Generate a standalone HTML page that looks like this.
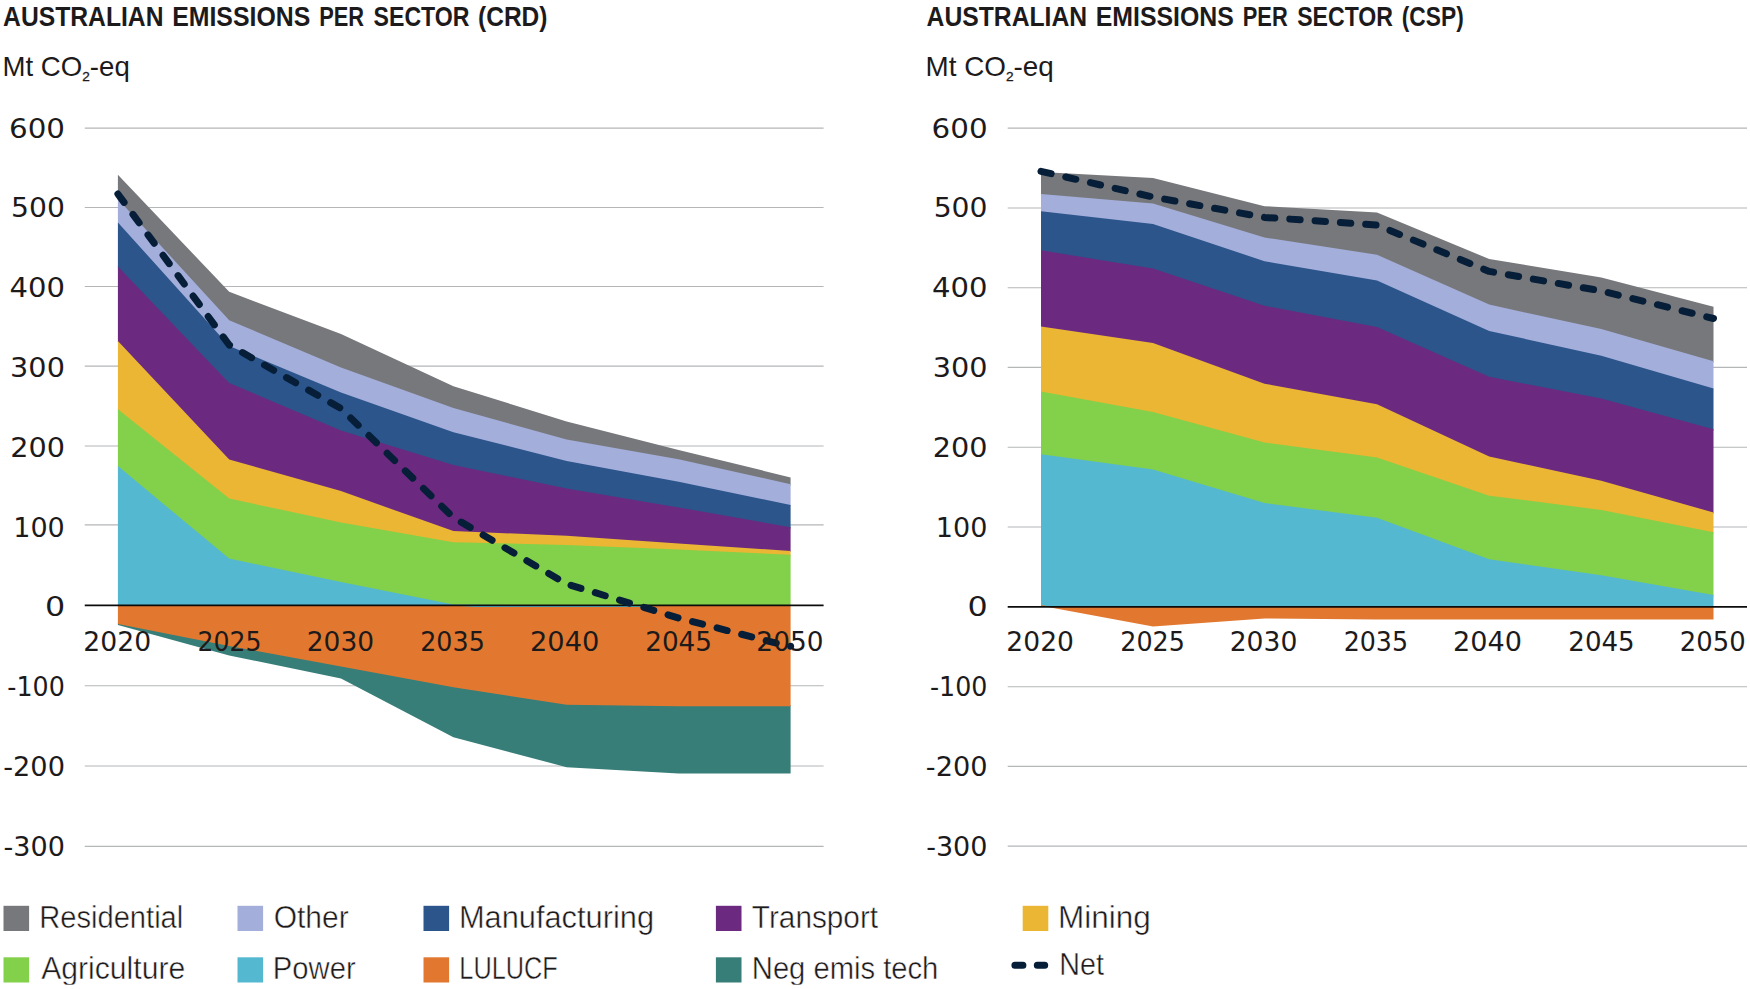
<!DOCTYPE html>
<html lang="en">
<head>
<meta charset="utf-8">
<title>Australian emissions per sector</title>
<style>
html,body{margin:0;padding:0;background:#fff;}
body{width:1750px;height:989px;overflow:hidden;}
svg{display:block;}
text{fill:#1d1a1b;}
.num{font-family:"DejaVu Sans","Liberation Sans",sans-serif;font-size:27.3px;}
.leg{font-family:"Liberation Sans",sans-serif;font-size:30.6px;stroke:#fff;stroke-width:0.45px;}
.ttl{font-family:"Liberation Sans",sans-serif;font-weight:bold;font-size:27px;}
.unit{font-family:"Liberation Sans",sans-serif;font-size:27.4px;}
.sub{font-size:13.5px;stroke:#1d1a1b;stroke-width:0.3px;}
</style>
</head>
<body>
<svg width="1750" height="989" viewBox="0 0 1750 989">
<rect width="1750" height="989" fill="#ffffff"/>
<g id="chart-crd">
<line x1="84.75" x2="823.6" y1="128.1" y2="128.1" stroke="#B4B6B8" stroke-width="1.15"/>
<line x1="84.75" x2="823.6" y1="207.5" y2="207.5" stroke="#B4B6B8" stroke-width="1.15"/>
<line x1="84.75" x2="823.6" y1="286.5" y2="286.5" stroke="#B4B6B8" stroke-width="1.15"/>
<line x1="84.75" x2="823.6" y1="366.1" y2="366.1" stroke="#B4B6B8" stroke-width="1.15"/>
<line x1="84.75" x2="823.6" y1="446" y2="446" stroke="#B4B6B8" stroke-width="1.15"/>
<line x1="84.75" x2="823.6" y1="524.8" y2="524.8" stroke="#B4B6B8" stroke-width="1.15"/>
<line x1="84.75" x2="823.6" y1="685.7" y2="685.7" stroke="#B4B6B8" stroke-width="1.15"/>
<line x1="84.75" x2="823.6" y1="766" y2="766" stroke="#B4B6B8" stroke-width="1.15"/>
<line x1="84.75" x2="823.6" y1="846.4" y2="846.4" stroke="#B4B6B8" stroke-width="1.15"/>
<polygon fill="#77787B" points="117.9,174.8 229.2,291.8 341,333.9 453.4,386.2 566.6,421.4 678.6,449.9 790.6,477.4 790.6,485.4 678.6,460.5 566.6,440.7 453.4,409.3 341,368.6 229.2,321.4 117.9,200.2"/>
<polygon fill="#A3AEDB" points="117.9,199 229.2,320.2 341,367.4 453.4,408.1 566.6,439.5 678.6,459.3 790.6,484.2 790.6,506.1 678.6,482.9 566.6,462.2 453.4,433.4 341,393.6 229.2,347.2 117.9,223.6"/>
<polygon fill="#2B558B" points="117.9,222.4 229.2,346 341,392.4 453.4,432.2 566.6,461 678.6,481.7 790.6,504.9 790.6,528.4 678.6,508.6 566.6,489.7 453.4,466.2 341,431.8 229.2,384.1 117.9,267.7"/>
<polygon fill="#6B2A80" points="117.9,266.5 229.2,382.9 341,430.6 453.4,465 566.6,488.5 678.6,507.4 790.6,527.2 790.6,552.1 678.6,544.7 566.6,537 453.4,532.3 341,492.3 229.2,460.6 117.9,342.3"/>
<polygon fill="#EBB633" points="117.9,341.1 229.2,459.4 341,491.1 453.4,531.1 566.6,535.8 678.6,543.5 790.6,550.9 790.6,556 678.6,550.8 566.6,546.1 453.4,543.5 341,523.6 229.2,499.8 117.9,410.4"/>
<polygon fill="#83D04A" points="117.9,409.2 229.2,498.6 341,522.4 453.4,542.3 566.6,544.9 678.6,549.6 790.6,554.8 790.6,605.4 678.6,605.4 566.6,605.4 453.4,605.4 341,583.3 229.2,559.8 117.9,467.3"/>
<polygon fill="#54B8D1" points="117.9,466.1 229.2,558.6 341,582.1 453.4,604.5 566.6,605.5 678.6,605.5 790.6,605.5 790.6,605.4 678.6,605.4 566.6,605.4 453.4,605.4 341,605.4 229.2,605.4 117.9,605.4"/>
<polygon fill="#377E78" points="117.9,622.8 229.2,644.8 341,665.2 453.4,686.1 566.6,703.6 678.6,705.1 790.6,705.1 790.6,773.6 678.6,773.6 566.6,767.2 453.4,737.2 341,678.4 229.2,655.5 117.9,625"/>
<polygon fill="#E2782F" points="117.9,605.4 229.2,605.4 341,605.4 453.4,605.4 566.6,605.4 678.6,605.4 790.6,605.4 790.6,706.3 678.6,706.3 566.6,704.8 453.4,687.3 341,666.4 229.2,646 117.9,624"/>
<polygon fill="#54B8D1" points="452,605.4 475,607 640,607 650,605.4"/>
<line x1="84.75" x2="823.6" y1="605.4" y2="605.4" stroke="#0c0c0c" stroke-width="1.7"/>
<polyline fill="none" stroke="#061E38" stroke-width="7" stroke-linecap="round" stroke-linejoin="round" stroke-dasharray="10.4 14.96" points="117.9,194 229.2,345 341,408.5 453.4,517.5 566.6,584 678.6,618 790.6,646.9"/>
<circle cx="790.6" cy="646.3" r="3.5" fill="#061E38"/>
</g>
<g id="chart-csp">
<line x1="1007.7" x2="1747" y1="128.1" y2="128.1" stroke="#B4B6B8" stroke-width="1.15"/>
<line x1="1007.7" x2="1747" y1="208" y2="208" stroke="#B4B6B8" stroke-width="1.15"/>
<line x1="1007.7" x2="1747" y1="287.7" y2="287.7" stroke="#B4B6B8" stroke-width="1.15"/>
<line x1="1007.7" x2="1747" y1="367.4" y2="367.4" stroke="#B4B6B8" stroke-width="1.15"/>
<line x1="1007.7" x2="1747" y1="447.2" y2="447.2" stroke="#B4B6B8" stroke-width="1.15"/>
<line x1="1007.7" x2="1747" y1="527" y2="527" stroke="#B4B6B8" stroke-width="1.15"/>
<line x1="1007.7" x2="1747" y1="686.7" y2="686.7" stroke="#B4B6B8" stroke-width="1.15"/>
<line x1="1007.7" x2="1747" y1="766.4" y2="766.4" stroke="#B4B6B8" stroke-width="1.15"/>
<line x1="1007.7" x2="1747" y1="846.1" y2="846.1" stroke="#B4B6B8" stroke-width="1.15"/>
<polygon fill="#77787B" points="1041,172 1153,178 1264.5,206.2 1377,212.5 1489.2,259 1601.3,277.4 1713.5,306.8 1713.5,362.5 1601.3,330.3 1489.2,305.8 1377,256 1264.5,238.7 1153,204.6 1041,195.1"/>
<polygon fill="#A3AEDB" points="1041,193.9 1153,203.4 1264.5,237.5 1377,254.8 1489.2,304.6 1601.3,329.1 1713.5,361.3 1713.5,389.7 1601.3,356.9 1489.2,332.2 1377,281.8 1264.5,262.4 1153,225.3 1041,212.4"/>
<polygon fill="#2B558B" points="1041,211.2 1153,224.1 1264.5,261.2 1377,280.6 1489.2,331 1601.3,355.7 1713.5,388.5 1713.5,430.4 1601.3,399.8 1489.2,378 1377,328.2 1264.5,307 1153,269.8 1041,251.5"/>
<polygon fill="#6B2A80" points="1041,250.3 1153,268.6 1264.5,305.8 1377,327 1489.2,376.8 1601.3,398.6 1713.5,429.2 1713.5,513.7 1601.3,481.9 1489.2,457.6 1377,405.5 1264.5,384.9 1153,344.2 1041,327.7"/>
<polygon fill="#EBB633" points="1041,326.5 1153,343 1264.5,383.7 1377,404.3 1489.2,456.4 1601.3,480.7 1713.5,512.5 1713.5,533.5 1601.3,511.1 1489.2,496.9 1377,458.6 1264.5,443.8 1153,413.2 1041,392.8"/>
<polygon fill="#83D04A" points="1041,391.6 1153,412 1264.5,442.6 1377,457.4 1489.2,495.7 1601.3,509.9 1713.5,532.3 1713.5,596.2 1601.3,576.5 1489.2,560.5 1377,518.9 1264.5,504.3 1153,470.8 1041,455.5"/>
<polygon fill="#54B8D1" points="1041,454.3 1153,469.6 1264.5,503.1 1377,517.7 1489.2,559.3 1601.3,575.3 1713.5,595 1713.5,606.9 1601.3,606.9 1489.2,606.9 1377,606.9 1264.5,606.9 1153,606.9 1041,606.9"/>
<polygon fill="#E2782F" points="1041,606.9 1153,606.9 1264.5,606.9 1377,606.9 1489.2,606.9 1601.3,606.9 1713.5,606.9 1713.5,619.5 1601.3,619.5 1489.2,619.5 1377,619.4 1264.5,618.4 1153,626.4 1041,605.8"/>
<polygon fill="#E2782F" points="1041,605 1053,606.9 1041,606.9"/>
<line x1="1007.7" x2="1747" y1="606.9" y2="606.9" stroke="#0c0c0c" stroke-width="1.7"/>
<polyline fill="none" stroke="#061E38" stroke-width="7" stroke-linecap="round" stroke-linejoin="round" stroke-dasharray="10.4 14.96" points="1041,171.3 1153,197 1264.5,217.4 1377,225.1 1489.2,271.4 1601.3,290.9 1713.5,318.5"/>
</g>
<g id="legend">
<rect x="3.5" y="905.8" width="25.6" height="25.2" fill="#77787B"/>
<rect x="237.5" y="905.8" width="25.6" height="25.2" fill="#A3AEDB"/>
<rect x="423.5" y="905.8" width="25.6" height="25.2" fill="#2B558B"/>
<rect x="715.9" y="905.8" width="25.6" height="25.2" fill="#6B2A80"/>
<rect x="1022.7" y="905.8" width="25.6" height="25.2" fill="#EBB633"/>
<rect x="3.5" y="957.3" width="25.6" height="25.2" fill="#83D04A"/>
<rect x="237.5" y="957.3" width="25.6" height="25.2" fill="#54B8D1"/>
<rect x="423.5" y="957.3" width="25.6" height="25.2" fill="#E2782F"/>
<rect x="715.9" y="957.3" width="25.6" height="25.2" fill="#377E78"/>
<line x1="1014.9" x2="1044.7" y1="965.2" y2="965.2" stroke="#061E38" stroke-width="7" stroke-linecap="round" stroke-dasharray="8 14.4"/>
</g>
<g id="labels">
<text class="ttl" transform="translate(3.11 26.1) scale(0.9145 1)">AUSTRALIAN</text>
<text class="ttl" transform="translate(172.19 26.1) scale(0.9209 1)">EMISSIONS</text>
<text class="ttl" transform="translate(319.18 26.1) scale(0.8094 1)">PER</text>
<text class="ttl" transform="translate(373.56 26.1) scale(0.8561 1)">SECTOR</text>
<text class="ttl" transform="translate(478.06 26.1) scale(0.9081 1)">(CRD)</text>
<text class="ttl" transform="translate(926.61 26.1) scale(0.915 1)">AUSTRALIAN</text>
<text class="ttl" transform="translate(1095.79 26.1) scale(0.9209 1)">EMISSIONS</text>
<text class="ttl" transform="translate(1242.78 26.1) scale(0.8094 1)">PER</text>
<text class="ttl" transform="translate(1297.16 26.1) scale(0.8561 1)">SECTOR</text>
<text class="ttl" transform="translate(1401.75 26.1) scale(0.8437 1)">(CSP)</text>
<text class="unit" transform="translate(2.53 75.7) scale(1.0078 1)">Mt CO<tspan class="sub" dy="5.4">2</tspan><tspan dy="-5.4">-eq</tspan></text>
<text class="unit" transform="translate(925.51 75.7) scale(1.016 1)">Mt CO<tspan class="sub" dy="5.4">2</tspan><tspan dy="-5.4">-eq</tspan></text>
<text class="num" transform="translate(8.95 137.6) scale(1.0756 1)">600</text>
<text class="num" transform="translate(11.03 217.4) scale(1.0342 1)">500</text>
<text class="num" transform="translate(9.47 297.2) scale(1.0653 1)">400</text>
<text class="num" transform="translate(10.09 377) scale(1.0528 1)">300</text>
<text class="num" transform="translate(10.2 456.8) scale(1.0508 1)">200</text>
<text class="num" transform="translate(13.23 536.6) scale(0.9905 1)">100</text>
<text class="num" transform="translate(44.96 616.4) scale(1.1636 1)">0</text>
<text class="num" transform="translate(7.34 696.2) scale(0.9277 1)">-100</text>
<text class="num" transform="translate(3.26 776) scale(0.9957 1)">-200</text>
<text class="num" transform="translate(3.56 855.8) scale(0.9906 1)">-300</text>
<text class="num" transform="translate(931.55 137.6) scale(1.0756 1)">600</text>
<text class="num" transform="translate(933.63 217.4) scale(1.0342 1)">500</text>
<text class="num" transform="translate(932.07 297.2) scale(1.0653 1)">400</text>
<text class="num" transform="translate(932.69 377) scale(1.0528 1)">300</text>
<text class="num" transform="translate(932.8 456.8) scale(1.0508 1)">200</text>
<text class="num" transform="translate(935.83 536.6) scale(0.9905 1)">100</text>
<text class="num" transform="translate(967.56 616.4) scale(1.1636 1)">0</text>
<text class="num" transform="translate(929.94 696.2) scale(0.9277 1)">-100</text>
<text class="num" transform="translate(925.86 776) scale(0.9957 1)">-200</text>
<text class="num" transform="translate(926.16 855.8) scale(0.9906 1)">-300</text>
<text class="num" transform="translate(83.35 650.7) scale(0.9764 1)">2020</text>
<text class="num" transform="translate(197.45 650.7) scale(0.9231 1)">2025</text>
<text class="num" transform="translate(306.76 650.7) scale(0.9703 1)">2030</text>
<text class="num" transform="translate(420.24 650.7) scale(0.9292 1)">2035</text>
<text class="num" transform="translate(529.9 650.7) scale(1.0008 1)">2040</text>
<text class="num" transform="translate(645.17 650.7) scale(0.9631 1)">2045</text>
<text class="num" transform="translate(756.37 650.7) scale(0.9658 1)">2050</text>
<text class="num" transform="translate(1006.35 650.7) scale(0.9734 1)">2020</text>
<text class="num" transform="translate(1120.24 650.7) scale(0.9308 1)">2025</text>
<text class="num" transform="translate(1229.65 650.7) scale(0.9749 1)">2030</text>
<text class="num" transform="translate(1343.64 650.7) scale(0.9277 1)">2035</text>
<text class="num" transform="translate(1453.01 650.7) scale(0.9947 1)">2040</text>
<text class="num" transform="translate(1568.29 650.7) scale(0.9569 1)">2045</text>
<text class="num" transform="translate(1679.8 650.7) scale(0.9475 1)">2050</text>
<text class="leg" transform="translate(39.22 927.7) scale(0.952 1)">Residential</text>
<text class="leg" transform="translate(273.73 927.7) scale(0.9799 1)">Other</text>
<text class="leg" transform="translate(458.88 927.7) scale(1.0069 1)">Manufacturing</text>
<text class="leg" transform="translate(751.87 927.7) scale(0.9724 1)">Transport</text>
<text class="leg" transform="translate(1058.02 927.7) scale(1.0309 1)">Mining</text>
<text class="leg" transform="translate(41.2 978.9) scale(0.9851 1)">Agriculture</text>
<text class="leg" transform="translate(272.81 978.9) scale(0.9552 1)">Power</text>
<text class="leg" transform="translate(459.33 978.9) scale(0.8278 1)">LULUCF</text>
<text class="leg" transform="translate(751.82 978.9) scale(0.9539 1)">Neg emis tech</text>
<text class="leg" transform="translate(1059.26 974.5) scale(0.9378 1)">Net</text>
</g>
<rect x="0" y="984.6" width="1750" height="4.4" fill="#fff"/>
</svg>
</body>
</html>
